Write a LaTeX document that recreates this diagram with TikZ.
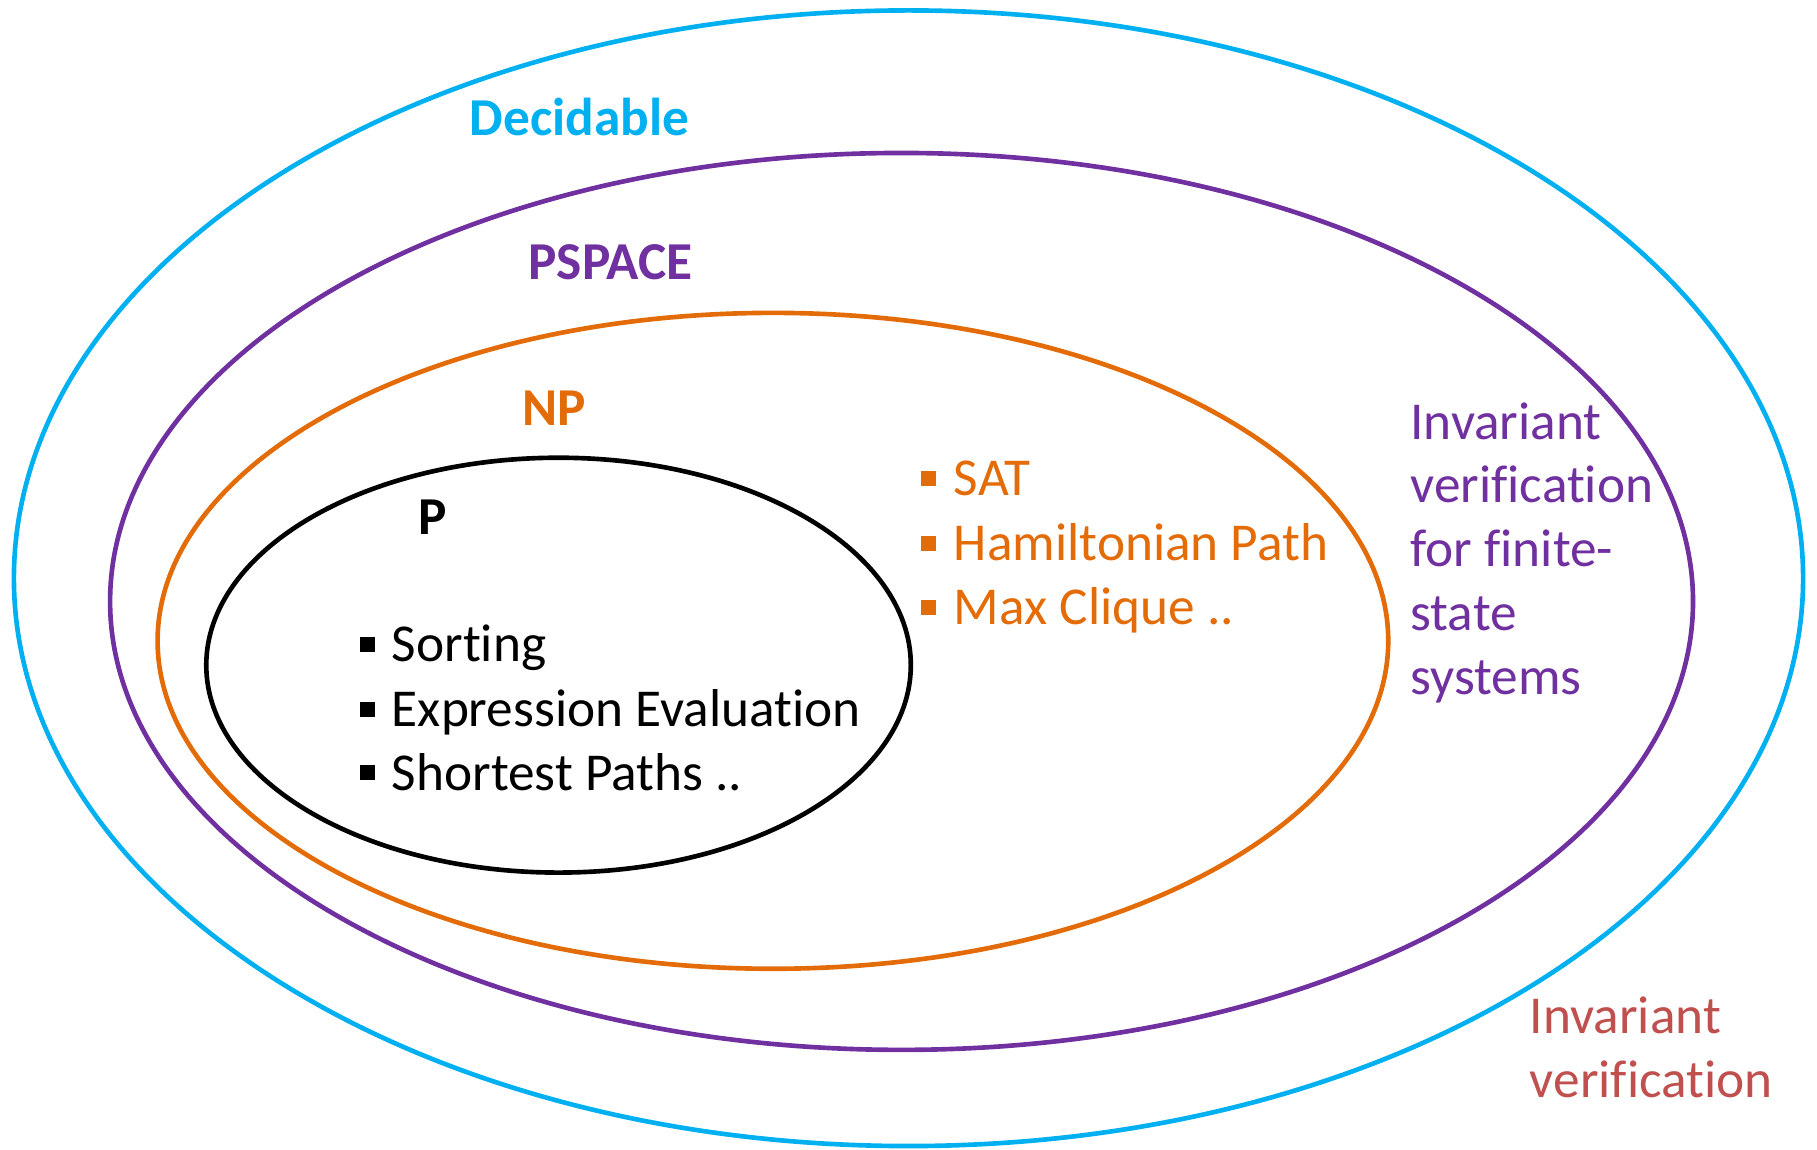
\documentclass[tikz,border=0pt]{standalone}
\usepackage{fontspec}
\setmainfont[Ligatures={NoCommon}]{Carlito}
\definecolor{cdec}{HTML}{00B0F0}
\definecolor{cpsp}{HTML}{7030A0}
\definecolor{cnp}{HTML}{E36C09}
\definecolor{cinv}{HTML}{C0504D}
\begin{document}
\begin{tikzpicture}[x=1pt,y=-1pt,
  ring/.style={line width=4pt},
  lbl/.style={inner sep=0pt,anchor=base west,font=\fontsize{46}{55}\selectfont},
  title/.style={inner sep=0pt,anchor=base,font=\fontsize{46}{55}\selectfont\bfseries},
  bul/.style={fill=#1,minimum size=13pt,inner sep=0pt,draw=none}]
\useasboundingbox (0,0) rectangle (1568,992);
\fill[white] (0,0) rectangle (1568,992);
% ellipses
\draw[ring,cdec] (784,499) ellipse [x radius=772, y radius=490];
\draw[ring,cpsp] (778,519) ellipse [x radius=683, y radius=387];
\draw[ring,cnp]  (667,553) ellipse [x radius=531, y radius=283];
\draw[ring,black] (482,574) ellipse [x radius=304, y radius=179];
% titles
\node[title,text=cdec] (tdec) at (500,117) {Decidable};
\node[title,text=cpsp] (tpsp) at (527,241) {PSPACE};
\node[title,text=cnp]  (tnp)  at (478,367) {NP};
\node[title,text=black] (tp)  at (373,461) {P};
% P items
\node[bul=black] (b1) at (317,556) {};
\node[lbl] (p1) at (338,571) {Sorting};
\node[bul=black] (b2) at (317,612) {};
\node[lbl] (p2) at (338,627) {Expression Evaluation};
\node[bul=black] (b3) at (317,667) {};
\node[lbl] (p3) at (338,682) {Shortest Paths ..};
% NP items
\node[bul=cnp] (n1b) at (801,413) {};
\node[lbl,text=cnp] (n1) at (823,428) {SAT};
\node[bul=cnp] (n2b) at (801,469) {};
\node[lbl,text=cnp] (n2) at (823,484) {Hamiltonian Path};
\node[bul=cnp] (n3b) at (801,524) {};
\node[lbl,text=cnp] (n3) at (823,539) {Max Clique ..};
% PSPACE example
\node[lbl,text=cpsp] (s1) at (1217,379) {Invariant};
\node[lbl,text=cpsp] (s2) at (1217,434) {verification};
\node[lbl,text=cpsp] (s3) at (1217,489) {for finite-};
\node[lbl,text=cpsp] (s4) at (1217,544) {state};
\node[lbl,text=cpsp] (s5) at (1217,599) {systems};
% Decidable example
\node[lbl,text=cinv] (d1) at (1320,892) {Invariant};
\node[lbl,text=cinv] (d2) at (1320,947) {verification};
\end{tikzpicture}
\end{document}
